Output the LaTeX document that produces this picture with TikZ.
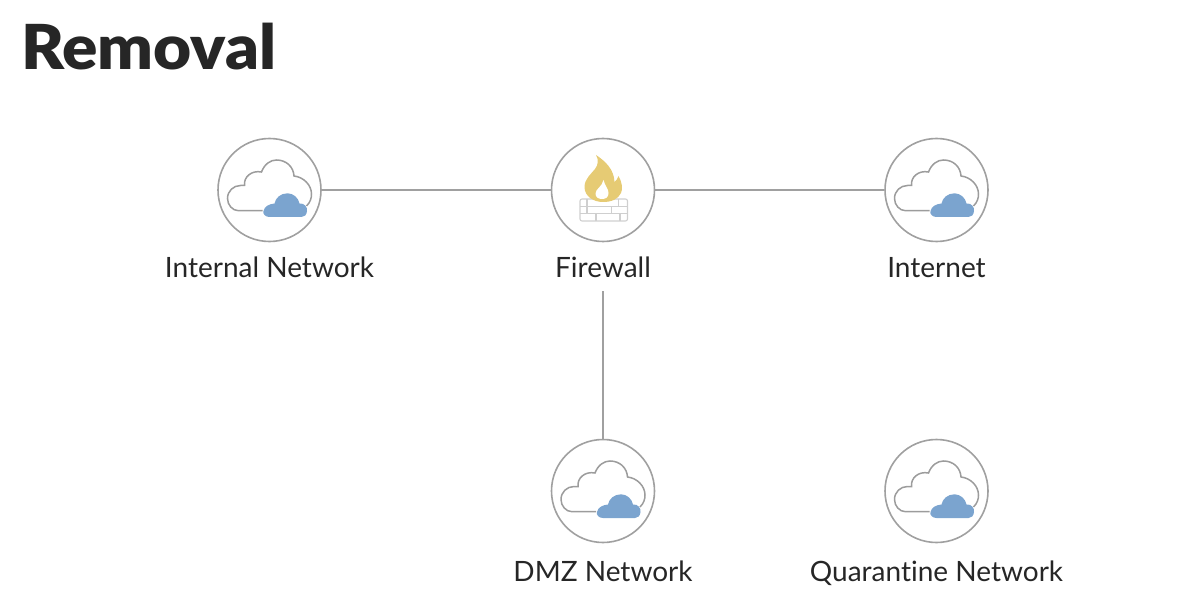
\documentclass[tikz,border=0pt]{standalone}
\usepackage{fontspec}
\setmainfont{Lato}[Ligatures=CommonOff]
\newfontfamily\titlefont{Lato Black}[FakeStretch=1.06]
\definecolor{ringgray}{HTML}{A0A0A0}
\definecolor{cloudgray}{HTML}{9C9C9C}
\definecolor{cloudblue}{HTML}{7BA4CF}
\definecolor{flameyellow}{HTML}{E6CB74}
\definecolor{wallgray}{HTML}{CFCFCF}
\definecolor{textdark}{HTML}{262626}
\tikzset{
  netcircle/.style={circle,draw=ringgray,line width=1.6pt,minimum size=103pt,inner sep=0pt},
  netlabel/.style={anchor=base,font=\fontsize{28}{32}\selectfont,text=textdark,inner sep=14pt},
  netlink/.style={draw=ringgray,line width=1.5pt},
  cloudicon/.pic={
    % White cloud
    \draw[cloudgray,line width=1.5pt,fill=white] (-7,20.7) -- (-31,20.7)
      .. controls (-37,20.7) and (-42,15) .. (-42,8.5)
      .. controls (-42,1) and (-36,-4.5) .. (-29,-4.5) -- (-25,-4.5)
      .. controls (-26,-13) and (-18,-20) .. (-8,-18)
      .. controls (-5,-26) and (1,-30) .. (7,-30)
      .. controls (17,-30) and (24,-23) .. (24.5,-14)
      .. controls (34,-13) and (42,-5) .. (42,4)
      .. controls (42,8) and (41,12) .. (37,16);
    % Blue cloud
    \fill[cloudblue] (0,27)
      .. controls (-4,27) and (-7,24) .. (-6,21)
      .. controls (-5,16) and (0,14) .. (5,13.5)
      .. controls (6,8) and (11,3.3) .. (18,3.3)
      .. controls (24,3.3) and (29,8) .. (30,13.5)
      .. controls (35,13) and (38,17) .. (37.5,21)
      .. controls (37,25) and (35,27) .. (32,27) -- cycle;
  },
  firewallicon/.pic={
    % Wall
    \draw[wallgray,line width=1.1pt,rounded corners=2pt] (-23,9) rectangle (24.5,31);
    \draw[wallgray,line width=1.1pt] (-23,16.3) -- (24.5,16.3) (-23,23.7) -- (24.5,23.7)
      (-16,9) -- (-16,23.7) (15.5,9) -- (15.5,16.3) (8.7,16.3) -- (8.7,23.7)
      (-7,23.7) -- (-7,31) (17,23.7) -- (17,31);
    % Flame
    \fill[flameyellow] (-7,-35)
      .. controls (2,-29) and (11,-21) .. (11.5,-8)
      .. controls (13,-9) and (14.5,-11) .. (15.5,-14)
      .. controls (19,-8) and (20,-1) .. (18,3)
      .. controls (15,9) and (9,12) .. (0,12)
      .. controls (-10,12) and (-18.5,6) .. (-18.5,-3)
      .. controls (-18.5,-11) and (-12,-16) .. (-8,-21)
      .. controls (-5,-25) and (-4,-30) .. (-7,-35) -- cycle;
    \fill[white] (0.5,-10)
      .. controls (2,-4) and (5.5,-1) .. (5.5,3)
      .. controls (5.5,7) and (3,9) .. (-1,9)
      .. controls (-5,9) and (-7.5,7) .. (-7.5,3.5)
      .. controls (-7.5,-1) and (-1,-3) .. (0.5,-10) -- cycle;
  }
}
\begin{document}
\begin{tikzpicture}[x=1pt,y=-1pt]
  \useasboundingbox (0,0) rectangle (1190,612);

  % Title
  \node[anchor=base west,inner sep=0pt,text=textdark,font=\fontsize{62}{70}\titlefont] (title) at (21,70) {Removal};

  % Networks
  \node[netcircle] (internal) at (269.5,190) {};
  \node[netcircle] (firewall) at (603,190) {};
  \node[netcircle] (internet) at (936.5,190) {};
  \node[netcircle] (dmz) at (603,491) {};
  \node[netcircle] (quarantine) at (936.5,491) {};

  % Labels
  \node[netlabel] (internallabel) at (269.5,277) {Internal Network};
  \node[netlabel] (firewalllabel) at (603,277) {Firewall};
  \node[netlabel] (internetlabel) at (936.5,277) {Internet};
  \node[netlabel] (dmzlabel) at (603,581) {DMZ Network};
  \node[netlabel] (quarantinelabel) at (936.5,581) {Quarantine Network};

  % Icons
  \pic at (internal) {cloudicon};
  \pic at (firewall) {firewallicon};
  \pic at (internet) {cloudicon};
  \pic at (dmz) {cloudicon};
  \pic at (quarantine) {cloudicon};

  % Links
  \draw[netlink] (internal) -- (firewall);
  \draw[netlink] (firewall) -- (internet);
  \draw[netlink] (firewalllabel) -- (dmz);
\end{tikzpicture}
\end{document}
